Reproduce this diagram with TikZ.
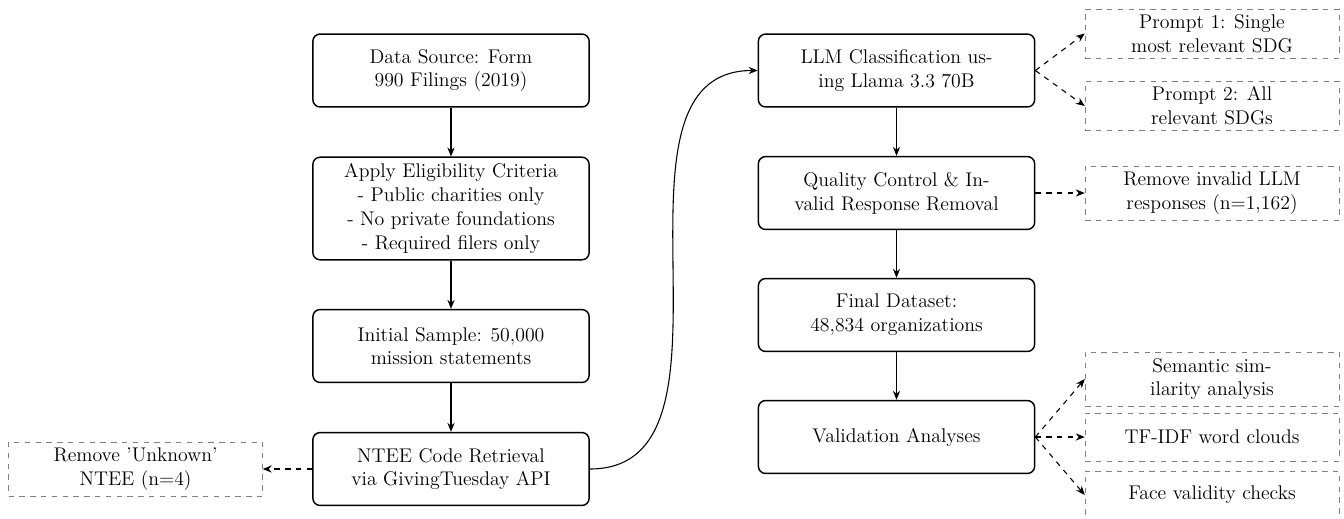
\documentclass[tikz,border=0pt]{standalone}
\usetikzlibrary{arrows.meta}
\tikzset{
  stage/.style={draw, thick, rounded corners=4pt, align=center,
    minimum width=153.5pt, minimum height=40.5pt, inner sep=3.5pt},
  note/.style={draw=gray, dashed, align=center, minimum width=141pt, inner sep=3pt},
  flow/.style={-{Stealth[length=5pt,width=4pt]}, semithick},
  side/.style={flow, dashed},
}
\begin{document}
\begin{tikzpicture}[x=0.5556pt, y=-0.5556pt, font=\fontsize{11}{13.2}\selectfont]
\useasboundingbox (0,0) rectangle (1344,518);

% left column: data preparation
\node[stage] (src)  at (451,70.5) {Data Source: Form\\990 Filings (2019)};
\node[stage, minimum height=57pt] (elig) at (451,208.5)
  {Apply Eligibility Criteria\\- Public charities only\\- No private foundations\\- Required filers only};
\node[stage] (init) at (451,346) {Initial Sample: 50,000\\mission statements};
\node[stage] (ntee) at (451,469) {NTEE Code Retrieval\\via GivingTuesday API};
\node[note, minimum height=30pt] (unk) at (135.5,469) {Remove 'Unknown'\\NTEE (n=4)};

% right column: classification and validation
\node[stage] (llm) at (896.5,70.5) {LLM Classification us-\\ing Llama 3.3 70B};
\node[stage] (qc)  at (896.5,193) {Quality Control \& In-\\valid Response Removal};
\node[stage] (fin) at (896.5,315) {Final Dataset:\\48,834 organizations};
\node[stage] (val) at (896.5,437) {Validation Analyses};

% side notes
\node[note, minimum height=27pt] (p1)  at (1212,33.5) {Prompt 1: Single\\most relevant SDG};
\node[note, minimum height=27.5pt] (p2)  at (1212,106) {Prompt 2: All\\relevant SDGs};
\node[note, minimum height=30pt] (rem) at (1212,193) {Remove invalid LLM\\responses (n=1,162)};
\node[note, minimum height=30pt] (sem) at (1212,379) {Semantic sim-\\ilarity analysis};
\node[note, minimum height=26.7pt] (tf)  at (1212,437) {TF-IDF word clouds};
\node[note, minimum height=26.7pt] (face) at (1212,495) {Face validity checks};

% main flow
\draw[flow] (src) -- (elig);
\draw[flow] (elig) -- (init);
\draw[flow] (init) -- (ntee);
\draw[flow] (ntee.east) to[out=0, in=180] (llm.west);
\draw[flow] (llm) -- (qc);
\draw[flow] (qc) -- (fin);
\draw[flow] (fin) -- (val);

% side branches
\draw[side] (ntee.west) -- (unk.east);
\draw[side] (llm.east) -- (p1.west);
\draw[side] (llm.east) -- (p2.west);
\draw[side] (qc.east) -- (rem.west);
\draw[side] (val.east) -- (sem.west);
\draw[side] (val.east) -- (tf.west);
\draw[side] (val.east) -- (face.west);
\end{tikzpicture}
\end{document}
